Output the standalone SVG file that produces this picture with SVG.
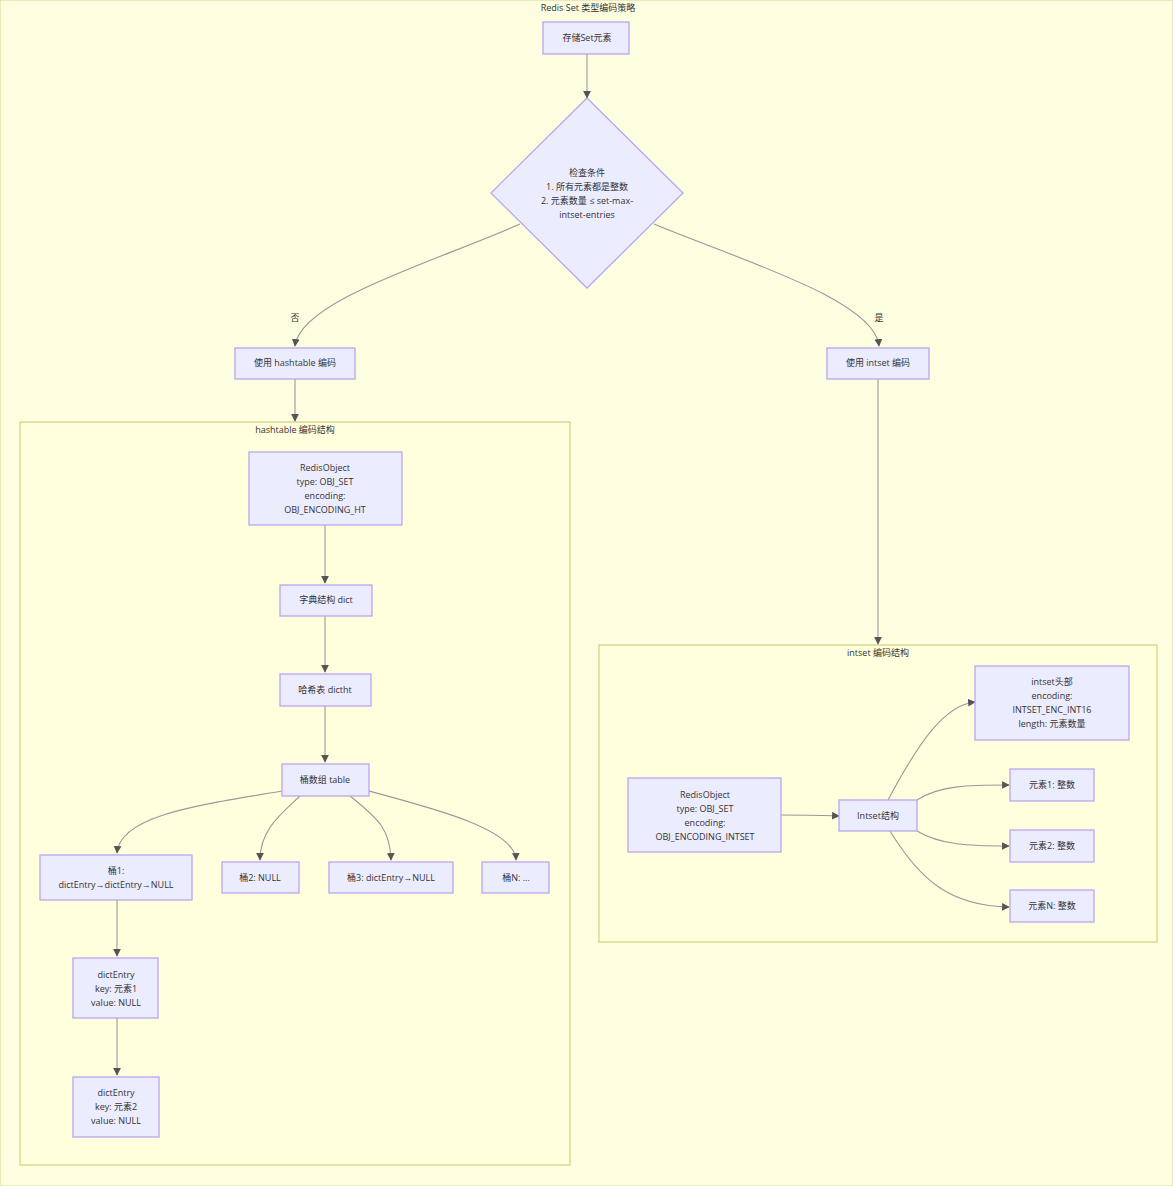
<svg xmlns="http://www.w3.org/2000/svg" width="1173" height="1186" viewBox="0 0 1173 1186">
<style>
text{font-family:"Open Sans","Liberation Sans","Noto Sans CJK SC",sans-serif;font-size:9px;fill:#333;text-anchor:middle}
.n{fill:#ECECFF;stroke:#b9a6f0;stroke-width:1.3}
.c{fill:#ffffde;stroke:#c8c86a;stroke-width:1}
.e{fill:none;stroke:#999;stroke-width:1.1;marker-end:url(#a)}
</style>
<defs><marker id="a" viewBox="0 0 10 10" refX="9" refY="5" markerWidth="7" markerHeight="7" orient="auto"><path d="M0,0L10,5L0,10z" fill="#555"/></marker></defs>
<rect x="0" y="0" width="1173" height="1186" fill="#fdfde0" stroke="#d8d890"/>
<text x="588" y="11">Redis Set 类型编码策略</text>
<rect class="c" x="20" y="422" width="550" height="743"/>
<text x="295" y="433">hashtable 编码结构</text>
<rect class="c" x="599" y="645" width="558" height="297"/>
<text x="878" y="656">intset 编码结构</text>
<g id="edges">
<path class="e" d="M587,54V98"/>
<path class="e" d="M520,224C440,260 300,300 295,346"/>
<path class="e" d="M654,224C740,260 875,300 879,346"/>
<path class="e" d="M295,379V421"/>
<path class="e" d="M878,379V644"/>
<path class="e" d="M325,525V583"/>
<path class="e" d="M325,616V672"/>
<path class="e" d="M325,706V762"/>
<path class="e" d="M282,791C200,805 120,815 117,853"/>
<path class="e" d="M300,796C280,815 260,830 260,860"/>
<path class="e" d="M350,796C380,820 390,830 391,860"/>
<path class="e" d="M369,791C440,810 515,830 516,860"/>
<path class="e" d="M117,900V956"/>
<path class="e" d="M117,1018V1075"/>
<path class="e" d="M781,815C810,815 820,815 839,816"/>
<path class="e" d="M888,800C920,740 945,705 975,702"/>
<path class="e" d="M917,800C940,785 970,785 1009,785"/>
<path class="e" d="M917,831C940,845 970,846 1009,846"/>
<path class="e" d="M890,831C920,880 950,906 1009,907"/>
</g>
<g id="n1"><rect class="n" x="543" y="22" width="86" height="32"/><text x="587" y="41">存储Set元素</text></g>
<g id="n2"><path class="n" d="M587,98L683,193L587,288L491,193z"/><text x="587" y="176">检查条件</text><text x="587" y="190">1. 所有元素都是整数</text><text x="587" y="204">2. 元素数量 ≤ set-max-</text><text x="587" y="218">intset-entries</text></g>
<text x="295" y="321">否</text><text x="879" y="321">是</text>
<g id="n3"><rect class="n" x="235" y="348" width="120" height="31"/><text x="295" y="366">使用 hashtable 编码</text></g>
<g id="n4"><rect class="n" x="827" y="348" width="102" height="31"/><text x="878" y="366">使用 intset 编码</text></g>
<g id="n5"><rect class="n" x="249" y="452" width="153" height="73"/><text x="325" y="471">RedisObject</text><text x="325" y="485">type: OBJ_SET</text><text x="325" y="499">encoding:</text><text x="325" y="513">OBJ_ENCODING_HT</text></g>
<g id="n6"><rect class="n" x="280" y="585" width="92" height="31"/><text x="326" y="603">字典结构 dict</text></g>
<g id="n7"><rect class="n" x="280" y="674" width="91" height="32"/><text x="325" y="693">哈希表 dictht</text></g>
<g id="n8"><rect class="n" x="282" y="764" width="87" height="32"/><text x="325" y="783">桶数组 table</text></g>
<g id="n9"><rect class="n" x="40" y="855" width="152" height="45"/><text x="116" y="874">桶1:</text><text x="116" y="888">dictEntry→dictEntry→NULL</text></g>
<g id="n10"><rect class="n" x="222" y="862" width="77" height="31"/><text x="260" y="881">桶2: NULL</text></g>
<g id="n11"><rect class="n" x="329" y="862" width="124" height="31"/><text x="391" y="881">桶3: dictEntry→NULL</text></g>
<g id="n12"><rect class="n" x="482" y="862" width="67" height="31"/><text x="516" y="881">桶N: ...</text></g>
<g id="n13"><rect class="n" x="73" y="958" width="85" height="60"/><text x="116" y="978">dictEntry</text><text x="116" y="992">key: 元素1</text><text x="116" y="1006">value: NULL</text></g>
<g id="n14"><rect class="n" x="73" y="1077" width="86" height="60"/><text x="116" y="1096">dictEntry</text><text x="116" y="1110">key: 元素2</text><text x="116" y="1124">value: NULL</text></g>
<g id="n15"><rect class="n" x="628" y="778" width="153" height="74"/><text x="705" y="798">RedisObject</text><text x="705" y="812">type: OBJ_SET</text><text x="705" y="826">encoding:</text><text x="705" y="840">OBJ_ENCODING_INTSET</text></g>
<g id="n16"><rect class="n" x="839" y="800" width="78" height="31"/><text x="878" y="819">Intset结构</text></g>
<g id="n17"><rect class="n" x="975" y="666" width="154" height="74"/><text x="1052" y="685">intset头部</text><text x="1052" y="699">encoding:</text><text x="1052" y="713">INTSET_ENC_INT16</text><text x="1052" y="727">length: 元素数量</text></g>
<g id="n18"><rect class="n" x="1010" y="769" width="84" height="32"/><text x="1052" y="788">元素1: 整数</text></g>
<g id="n19"><rect class="n" x="1010" y="830" width="84" height="32"/><text x="1052" y="849">元素2: 整数</text></g>
<g id="n20"><rect class="n" x="1010" y="890" width="84" height="32"/><text x="1052" y="909">元素N: 整数</text></g>
</svg>
